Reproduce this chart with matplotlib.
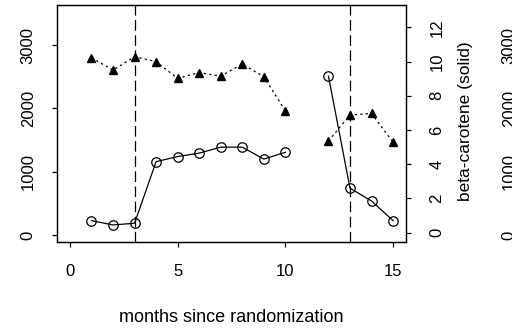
import numpy as np
import matplotlib
matplotlib.use("Agg")
import matplotlib.pyplot as plt
from matplotlib import transforms

plt.rcParams['font.family'] = ['Liberation Sans', 'DejaVu Sans']

months = [1, 2, 3, 4, 5, 6, 7, 8, 9, 10, 11, 12, 13, 14, 15]
beta_carotene = [0.7, 0.45, 0.55, 4.15, 4.45, 4.65, 5.0, 5.0, 4.3, 4.7, np.nan, 9.15, 2.6, 1.85, 0.7]
vitamin_e = [2800, 2605, 2815, 2740, 2475, 2565, 2510, 2700, 2500, 1960, np.nan, 1485, 1895, 1920, 1465]
event_months = [3, 13]
left_ticks = [0, 1000, 2000, 3000]
right_ticks = [0, 2, 4, 6, 8, 10, 12]
x_ticks = [0, 5, 10, 15]

W, H = 512, 328
fig = plt.figure(figsize=(W / 100, H / 100), dpi=100)
ax = fig.add_axes([57 / W, 1 - 241.7 / H, (406 - 57) / W, (241.7 - 4.7) / H])
ax2 = ax.twinx()

lw = 0.9
fs = 12

# dotted vitamin E with filled triangles (left scale)
ax.plot(months, vitamin_e, color='black', lw=lw, linestyle=(0, (1.8, 2.6)),
        marker='^', markersize=6.0, markerfacecolor='black', markeredgecolor='black')
# solid beta-carotene with open circles (right scale)
ax2.plot(months, beta_carotene, color='black', lw=lw, linestyle='-',
         marker='o', markersize=6.8, markerfacecolor='none', markeredgecolor='black',
         markeredgewidth=lw)

for m in event_months:
    ax.axvline(m, color='black', lw=lw, linestyle=(0, (8.5, 3.6)))

ax.set_xlim(-0.6, 15.6)
ax.set_ylim(-106, 3638)
ax2.set_ylim(-0.53, 13.33)

ax.set_xticks(x_ticks)
ax.set_yticks(left_ticks)
ax2.set_yticks(right_ticks)

for a in (ax, ax2):
    for s in a.spines.values():
        s.set_linewidth(lw)
ax.tick_params(axis='x', direction='out', length=3.3, width=lw, labelsize=fs, pad=12.5)
ax.tick_params(axis='y', direction='out', length=3.3, width=lw, labelsize=fs, pad=12.0, labelrotation=90)
ax2.tick_params(axis='y', direction='out', length=3.3, width=lw, labelsize=fs, pad=13.5, labelrotation=90)
for lab in ax.get_yticklabels():
    lab.set_va('center')
for lab in ax2.get_yticklabels():
    lab.set_va('center')

fig.text(231.5 / W, 1 - 321.7 / H, 'months since randomization', ha='center', va='baseline', fontsize=13)
fig.text(465.5 / W, 1 - 121 / H, 'beta-carotene (solid)', ha='center', va='center', rotation=90, fontsize=12.5)

# third (vitamin) axis labels, partially cut off at the right edge
tr = transforms.blended_transform_factory(fig.transFigure, ax.transData)
for v in left_ticks:
    fig.text(509.3 / W, v, str(v), transform=tr, ha='center', va='center', rotation=90, fontsize=fs)

fig.savefig('out.png', dpi=100)
